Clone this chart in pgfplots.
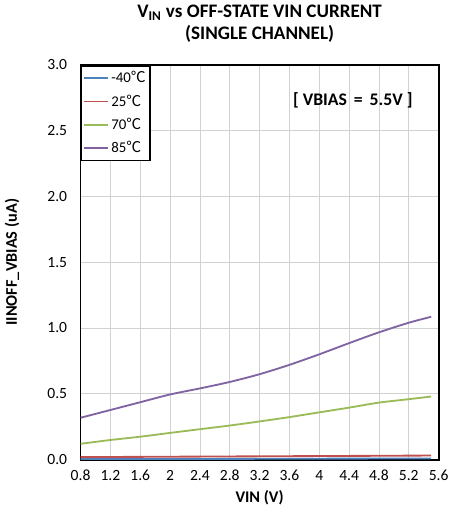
\documentclass[border=0pt]{standalone}
\usepackage{pgfplots}
\pgfplotsset{compat=1.18}
\usepackage{fontspec}
\setmainfont{Carlito}
\newfontfamily\cjk{Noto Sans CJK SC}
\newcommand{\degC}{{\cjk ℃}}
\begin{document}
\begin{tikzpicture}
\begin{axis}[
  scale only axis,
  width=253pt, height=279pt,
  xmin=0.8, xmax=5.6, ymin=0, ymax=3,
  xtick={0.8,1.2,...,5.61},
  xticklabels={0.8,1.2,1.6,2,2.4,2.8,3.2,3.6,4,4.4,4.8,5.2,5.6},
  ytick={0,0.5,...,3.01},
  yticklabel style={xshift=-6pt, /pgf/number format/.cd,fixed,fixed zerofill,precision=1},
  /pgf/number format/assume math mode=true,
  grid=major,
  major grid style={draw=gray!35, line width=0.6pt},
  axis line style={line width=1.3pt},
  tick style={draw=none},
  ticklabel style={font=\fontsize{11}{13}\selectfont},
  xticklabel style={yshift=-4pt},
  xlabel={\textbf{VIN (V)}},
  ylabel={\textbf{IINOFF\_VBIAS (uA)}},
  ylabel style={yshift=13pt},
  label style={font=\fontsize{11.5}{13}\selectfont},
  title={\textbf{V\textsubscript{IN} vs OFF-STATE VIN CURRENT}\\\textbf{(SINGLE CHANNEL)}},
  title style={align=center, font=\fontsize{13.5}{16}\selectfont, yshift=6pt},
  legend style={at={(0,1)}, anchor=north west, draw=black, line width=1.3pt,
    font=\fontsize{10.5}{12}\selectfont, row sep=3pt, inner xsep=1pt, inner ysep=2pt,
    legend cell align=left},
  legend image post style={line width=1pt},
  every axis plot/.append style={line width=1.3pt, no marks, smooth},
]
\addplot[color={rgb,255:red,79;green,129;blue,189}] coordinates {(0.8,0.004)(1.6,0.005)(2.4,0.005)(3.2,0.006)(4,0.007)(4.8,0.008)(5.5,0.009)};
\addlegendentry{-40\degC}
\addplot[color={rgb,255:red,192;green,80;blue,77}] coordinates {(0.8,0.019)(1.6,0.021)(2.4,0.023)(3.2,0.025)(4,0.027)(4.8,0.029)(5.5,0.031)};
\addlegendentry{25\degC}
\addplot[color={rgb,255:red,155;green,187;blue,89}] coordinates {(0.8,0.12)(1.2,0.149)(1.6,0.174)(2,0.203)(2.4,0.231)(2.8,0.259)(3.2,0.29)(3.6,0.323)(4,0.359)(4.4,0.395)(4.8,0.433)(5.2,0.459)(5.5,0.479)};
\addlegendentry{70\degC}
\addplot[color={rgb,255:red,128;green,100;blue,162}] coordinates {(0.8,0.318)(1.2,0.377)(1.6,0.436)(2,0.495)(2.4,0.541)(2.8,0.59)(3.2,0.649)(3.6,0.72)(4,0.80)(4.4,0.885)(4.8,0.967)(5.2,1.04)(5.5,1.085)};
\addlegendentry{85\degC}
\node[anchor=center, font=\bfseries\fontsize{12.5}{14}\selectfont] at (axis cs:4.45,2.73) {[ VBIAS \,=\, 5.5V ]};
\end{axis}
\end{tikzpicture}
\end{document}
